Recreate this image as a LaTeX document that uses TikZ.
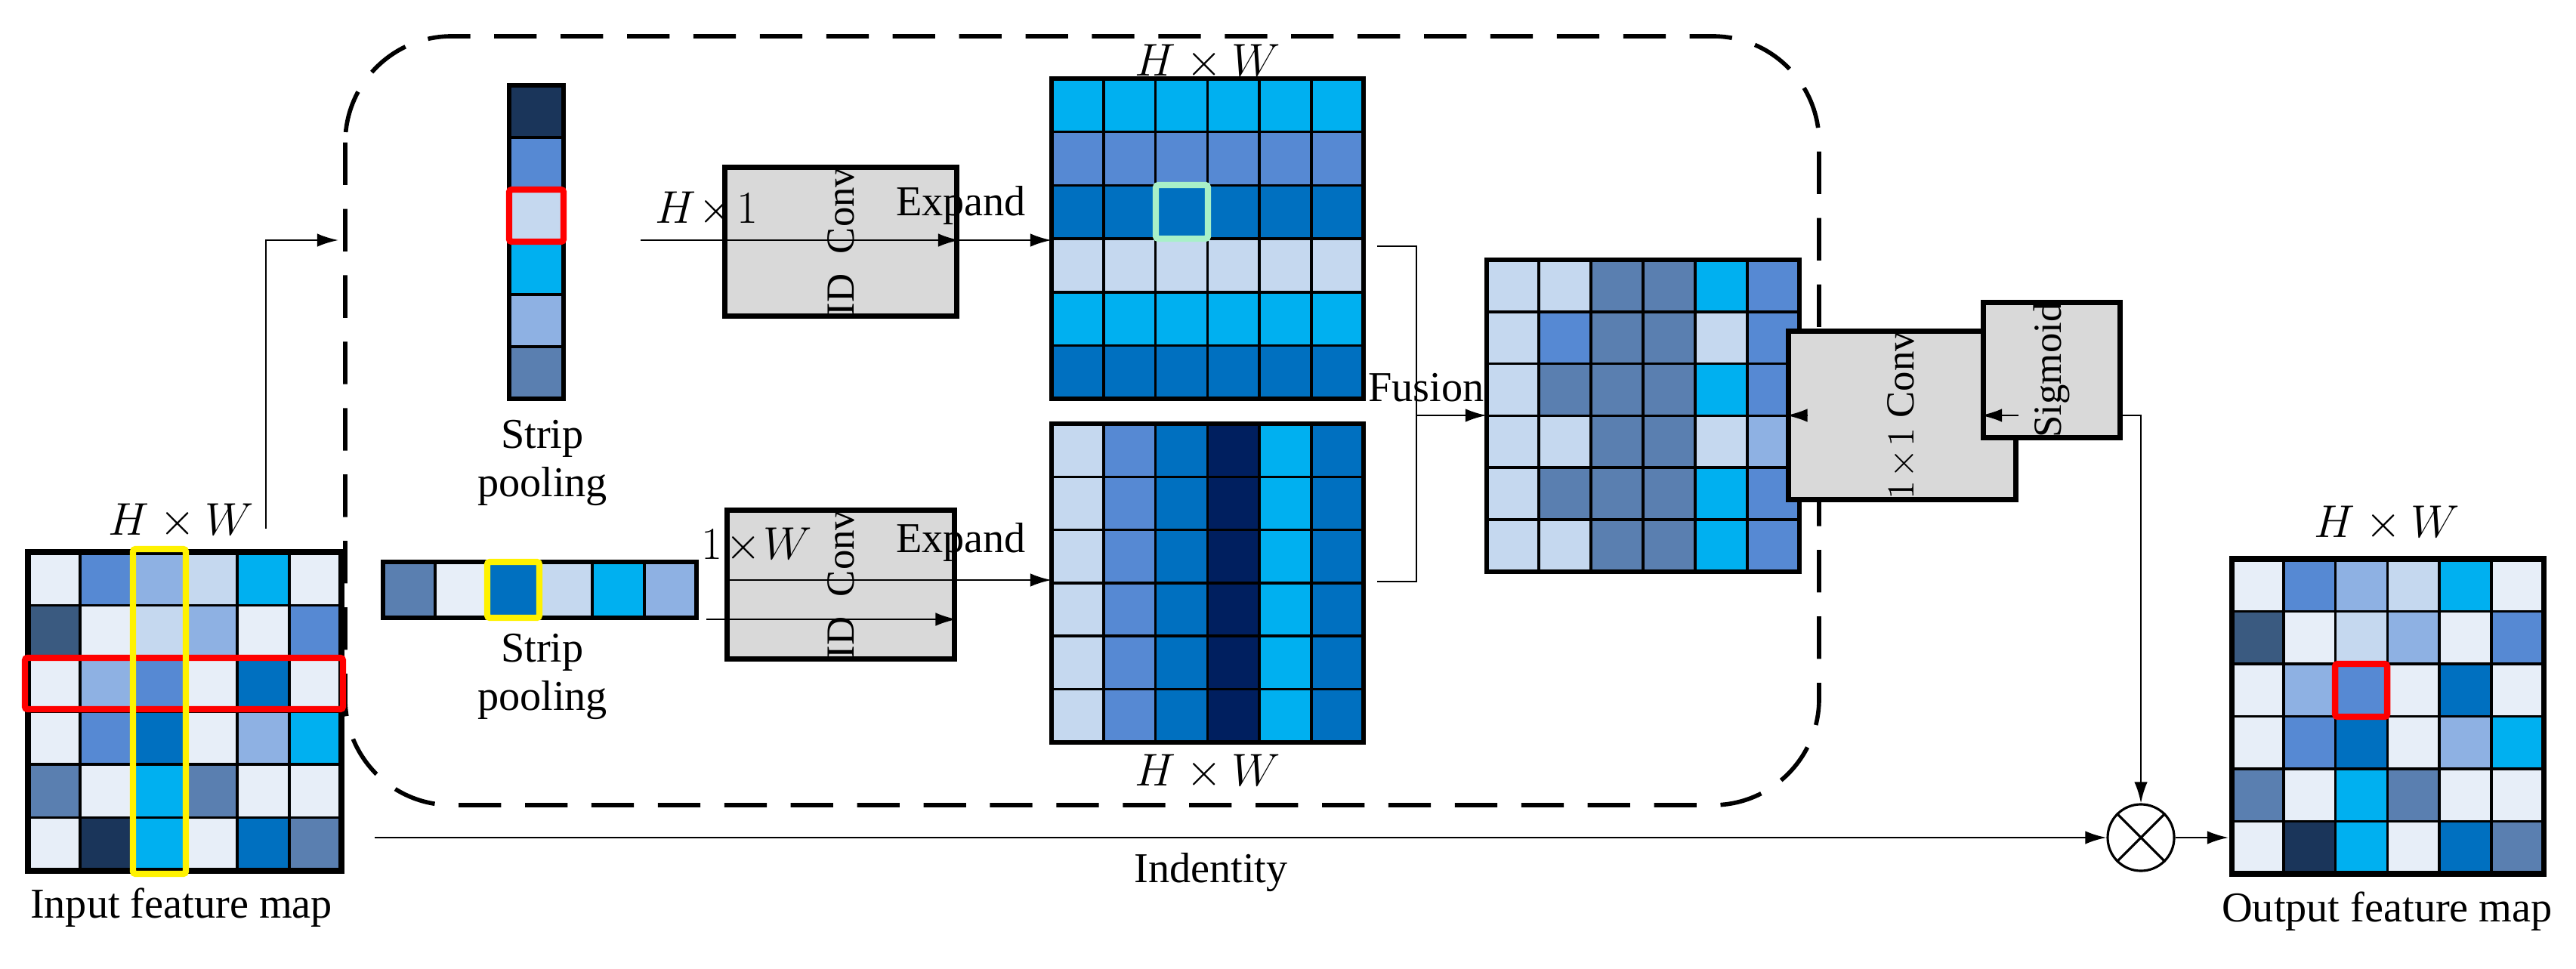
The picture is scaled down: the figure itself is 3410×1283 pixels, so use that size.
\documentclass[tikz,border=0pt]{standalone}
\usepackage{fontspec}
\setmainfont{Liberation Serif}
\usetikzlibrary{arrows.meta}
\definecolor{ca}{HTML}{E7EEF8}
\definecolor{cb}{HTML}{C5D8EF}
\definecolor{cc}{HTML}{8EB1E3}
\definecolor{cd}{HTML}{5689D3}
\definecolor{ce}{HTML}{00B0F0}
\definecolor{cf}{HTML}{0070C0}
\definecolor{cg}{HTML}{5A7FB0}
\definecolor{ch}{HTML}{3A5A80}
\definecolor{ci}{HTML}{1A355A}
\definecolor{cj}{HTML}{001F5F}
\definecolor{hlg}{HTML}{A8F0C8}
\newcommand\cellrow[5]{\foreach \cq [count=\k from 0] in #5 {\fill[\cq,draw=black,line width=1pt] ({#1+\k*#3},{#2}) rectangle +(#3,#4);}}
\newcommand\cellcol[5]{\foreach \cq [count=\k from 0] in #5 {\fill[\cq,draw=black,line width=1pt] ({#1},{#2+\k*#4}) rectangle +(#3,#4);}}
\begin{document}
\begin{tikzpicture}[x=0.01cm,y=-0.01cm,
  txt/.style={font=\fontsize{16}{18}\selectfont,inner sep=0pt},
  arr/.style={-{Latex[length=8pt,width=5pt]},line width=0.8pt},
  ln/.style={line width=0.8pt},
  box/.style={draw=black,line width=2pt,fill=black!15,inner sep=0pt,font=\fontsize{15}{17}\selectfont},
  hl/.style={line width=2.4pt,rounded corners=1pt}]
\useasboundingbox (0,0) rectangle (3410,1283);
% dashed region
\draw[line width=1.6pt,dash pattern=on 16pt off 9pt,rounded corners=40] (457,48) rectangle (2408,1066);
% input grid
\foreach \r/\row in {0/{ca,cd,cc,cb,ce,ca},1/{ch,ca,cb,cc,ca,cd},2/{ca,cc,cd,ca,cf,ca},3/{ca,cd,cf,ca,cc,ce},4/{cg,ca,ce,cg,ca,ca},5/{ca,ci,ce,ca,cf,cg}}
  {\cellrow{37}{731+\r*70.3}{69.2}{70.3}{\row}}
\draw[line width=2pt] (37,731) rectangle (452,1153);
\draw[hl,red] (33,871) rectangle (454,939);
\draw[hl,yellow] (176,727) rectangle (246,1157);
\node[txt] (inHW) at (240,690) {$H\times W$};
\node[txt] (inL) at (240,1202) {Input feature map};
\coordinate (inTop) at (352,700);
\coordinate (dashIn) at (448,318);
\draw[arr] (inTop) |- (dashIn);
% vertical strip
\cellcol{674}{113}{72}{69.2}{{ci,cd,cb,ce,cc,cg}}
\draw[line width=1.6pt] (674,113) rectangle (746,528);
\draw[hl,red] (674,251) rectangle (746,320);
\node[txt,align=center] (sp1) at (718,613) {Strip\\pooling};
% horizontal strip
\cellrow{507}{744}{69.2}{74}{{cg,ca,cf,cb,ce,cc}}
\draw[line width=1.6pt] (507,744) rectangle (922,818);
\draw[hl,yellow] (645,744) rectangle (714,818);
\node[txt,align=center] (sp2) at (718,896) {Strip\\pooling};
% conv boxes
\node[box,minimum width=0.68cm,minimum height=3.07cm,rotate=90] (conv1) at (1113,320) {ID\ \ Conv};
\node[box,minimum width=0.68cm,minimum height=3.0cm,rotate=90] (conv2) at (1113,774) {ID\ \ Conv};
\coordinate (a1) at (848,318);
\draw[arr] (a1) -- (conv1.south |- a1);
\node[txt] at (935,277) {$H\!\times\!1$};
\coordinate (a2) at (935,820);
\draw[arr] (a2) -- (conv2.south |- a2);
\node[txt] at (1002,722) {$1\!\times\! W$};
% top grid
\foreach \r/\cl in {0/ce,1/cd,2/cf,3/cb,4/ce,5/cf}
  {\cellrow{1392}{104+\r*70.7}{68.8}{70.7}{{\cl,\cl,\cl,\cl,\cl,\cl}}}
\draw[line width=1.6pt] (1392,104) rectangle (1805,528);
\draw[hl,hlg] (1530,245) rectangle (1599,316);
\node[txt] at (1599,82) {$H\times W$};
% bottom grid
\foreach \r in {0,...,5}
  {\cellrow{1392}{561+\r*70.3}{68.8}{70.3}{{cb,cd,cf,cj,ce,cf}}}
\draw[line width=1.6pt] (1392,561) rectangle (1805,983);
\node[txt] at (1599,1022) {$H\times W$};
\coordinate (e1) at (1392,318);
\coordinate (e2) at (1392,768);
\draw[arr] (conv1.north |- e1) -- (e1);
\draw[arr] (conv2.north |- e2) -- (e2);
\node[txt] at (1272,272) {Expand};
\node[txt] at (1272,718) {Expand};
% fusion bracket
\coordinate (b1) at (1823,326);
\coordinate (b2) at (1823,770);
\draw[ln] (b1) -- (1875,326) -- (1875,770) -- (b2);
\coordinate (fz) at (1875,550);
\coordinate (fg) at (1968,550);
\draw[arr] (fz) -- (fg);
\node[txt] at (1888,513) {Fusion};
% fused grid
\foreach \r/\row in {0/{cb,cb,cg,cg,ce,cd},1/{cb,cd,cg,cg,cb,cd},2/{cb,cg,cg,cg,ce,cd},3/{cb,cb,cg,cg,cb,cc},4/{cb,cg,cg,cg,ce,cd},5/{cb,cb,cg,cg,ce,cd}}
  {\cellrow{1968}{344+\r*68.8}{69}{68.8}{\row}}
\draw[line width=1.6pt] (1968,344) rectangle (2382,757);
% 1x1 conv and sigmoid
\node[box,minimum width=0.65cm,minimum height=3.0cm,rotate=90] (conv3) at (2518,550) {$1\!\times\!1$\ Conv};
\node[box,minimum width=0.87cm,minimum height=1.81cm,rotate=90] (sig) at (2716,490) {Sigmoid};
\coordinate (fo) at (2393,550);
\draw[arr] (fo) -- (conv3.north |- fo);
\draw[arr] (conv3.south |- fo) -- (sig.north |- fo);
% multiply
\node[draw,circle,line width=0.9pt,minimum size=0.88cm,inner sep=0pt] (mul) at (2834,1109) {};
\draw[line width=0.9pt] (mul.north east) -- (mul.south west) (mul.north west) -- (mul.south east);
\draw[arr] (sig.south |- fo) -| (mul.north);
\coordinate (idS) at (496,1109);
\draw[arr] (idS) -- (mul.west);
\node[txt] at (1603,1155) {Indentity};
% output grid
\foreach \r/\row in {0/{ca,cd,cc,cb,ce,ca},1/{ch,ca,cb,cc,ca,cd},2/{ca,cc,cd,ca,cf,ca},3/{ca,cd,cf,ca,cc,ce},4/{cg,ca,ce,cg,ca,ca},5/{ca,ci,ce,ca,cf,cg}}
  {\cellrow{2954}{740+\r*69.5}{68.8}{69.5}{\row}}
\draw[line width=2pt] (2954,740) rectangle (3367,1157);
\draw[hl,red] (3091,879) rectangle (3160,949);
\coordinate (outL) at (2950,1109);
\draw[arr] (mul.east) -- (outL);
\node[txt] at (3160,693) {$H\times W$};
\node[txt] at (3160,1207) {Output feature map};
\end{tikzpicture}
\end{document}
